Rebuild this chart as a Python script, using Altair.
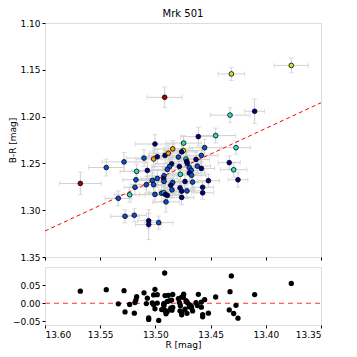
import altair as alt
import pandas as pd

R = [13.568, 13.5445, 13.5284, 13.5170, 13.5176, 13.5185, 13.5233, 13.5336, 13.5275, 13.5191,
     13.5061, 13.5061, 13.4970, 13.5103, 13.5004, 13.5016, 13.4983, 13.4913, 13.4883, 13.4843,
     13.4744, 13.4747, 13.4762, 13.4611, 13.4454, 13.4554, 13.4584, 13.4632, 13.4792, 13.4723,
     13.4717, 13.4711, 13.4853, 13.4871, 13.4892, 13.4783, 13.4693, 13.4675, 13.4693, 13.4672,
     13.4774, 13.4620, 13.4584, 13.5073, 13.4331, 13.4291, 13.4252, 13.4270, 13.4520, 13.4572,
     13.4572, 13.4663, 13.4732, 13.4714, 13.4762, 13.4777, 13.4762, 13.4843, 13.4861, 13.4850,
     13.4922, 13.4925, 13.4922, 13.4983, 13.5028, 13.5082, 13.5016, 13.5004, 13.4943, 13.4922,
     13.4910, 13.4892, 13.4904, 13.4916, 13.4312, 13.3769, 13.4324, 13.4101]
BR = [1.2714, 1.2544, 1.2484, 1.2585, 1.2675, 1.2755, 1.2835, 1.2873, 1.3065, 1.3054,
      1.3113, 1.3154, 1.3133, 1.2443, 1.2293, 1.2453, 1.2429, 1.2415, 1.2391, 1.2345,
      1.2283, 1.2363, 1.2377, 1.2214, 1.2203, 1.2332, 1.2415, 1.2457, 1.2432, 1.2453,
      1.2477, 1.2498, 1.2505, 1.2533, 1.2564, 1.2533, 1.2544, 1.2575, 1.2602, 1.2627,
      1.2617, 1.2529, 1.2554, 1.2575, 1.2492, 1.2568, 1.2675, 1.2332, 1.2685, 1.2755,
      1.2814, 1.2700, 1.2693, 1.2794, 1.2797, 1.2762, 1.2863, 1.2703, 1.2734, 1.2783,
      1.2633, 1.2665, 1.2693, 1.2661, 1.2682, 1.2727, 1.2727, 1.2831, 1.2818, 1.2814,
      1.2831, 1.2842, 1.2911, 1.1794, 1.1544, 1.1453, 1.1984, 1.1943]
GROUP = ["r", "b", "b", "c", "b", "b", "c", "b", "b", "b",
         "n", "n", "b", "b", "n", "o", "n", "n", "o", "o",
         "c", "Y", "n", "n", "c", "b", "b", "n", "b", "c",
         "n", "n", "n", "b", "b", "n", "b", "b", "n", "b",
         "c", "b", "n", "n", "n", "c", "n", "c", "n", "n",
         "n", "b", "n", "b", "n", "n", "n", "b", "n", "b",
         "b", "n", "b", "b", "b", "b", "b", "b", "b", "c",
         "n", "n", "b", "r", "y", "y", "c", "n"]
XERR = [0.019, 0.016, 0.020, 0.015, 0.012, 0.010, 0.014, 0.012, 0.013, 0.011,
        0.010, 0.012, 0.013, 0.016, 0.018, 0.016, 0.014, 0.015, 0.017, 0.018,
        0.016, 0.018, 0.014, 0.016, 0.018, 0.014, 0.015, 0.012, 0.017, 0.014,
        0.013, 0.012, 0.015, 0.016, 0.014, 0.014, 0.013, 0.012, 0.014, 0.013,
        0.015, 0.012, 0.012, 0.014, 0.010, 0.012, 0.009, 0.013, 0.010, 0.010,
        0.010, 0.014, 0.012, 0.014, 0.012, 0.013, 0.011, 0.014, 0.013, 0.012,
        0.015, 0.013, 0.014, 0.015, 0.016, 0.014, 0.013, 0.014, 0.012, 0.013,
        0.012, 0.011, 0.012, 0.016, 0.012, 0.0155, 0.018, 0.009]
YERR = [0.012, 0.009, 0.010, 0.008, 0.009, 0.008, 0.008, 0.008, 0.007, 0.007,
        0.008, 0.016, 0.007, 0.009, 0.010, 0.009, 0.008, 0.009, 0.008, 0.009,
        0.008, 0.009, 0.009, 0.010, 0.008, 0.009, 0.008, 0.008, 0.009, 0.009,
        0.010, 0.009, 0.009, 0.008, 0.008, 0.010, 0.009, 0.009, 0.009, 0.009,
        0.009, 0.008, 0.008, 0.009, 0.007, 0.008, 0.008, 0.007, 0.007, 0.007,
        0.007, 0.008, 0.008, 0.008, 0.008, 0.008, 0.008, 0.009, 0.008, 0.009,
        0.009, 0.009, 0.009, 0.009, 0.008, 0.009, 0.009, 0.009, 0.009, 0.010,
        0.008, 0.008, 0.011, 0.011, 0.007, 0.008, 0.008, 0.013]

# fitted relation: B-R = A + S * (R - R0)
FIT_R0 = 13.5985
FIT_A = 1.3214
FIT_S = 0.548
LINE_R = [13.60, 13.35]

df = pd.DataFrame({"R": R, "BR": BR, "g": GROUP, "xerr": XERR, "yerr": YERR})
df["xlo"] = df["R"] - df["xerr"]
df["xhi"] = df["R"] + df["xerr"]
df["ylo"] = df["BR"] - df["yerr"]
df["yhi"] = df["BR"] + df["yerr"]
df["res"] = FIT_A + FIT_S * (df["R"] - FIT_R0) - df["BR"]

line_df = pd.DataFrame({"R": LINE_R})
line_df["BR"] = FIT_A + FIT_S * (line_df["R"] - FIT_R0)
zero_df = pd.DataFrame({"R": LINE_R, "res": [0.0, 0.0]})

FONT = "DejaVu Sans"
xscale = alt.Scale(domain=[13.35, 13.60], reverse=True, nice=False, zero=False)
yscale = alt.Scale(domain=[1.10, 1.35], reverse=True, nice=False, zero=False)
rscale = alt.Scale(domain=[-0.06, 0.10], nice=False, zero=False)
XTICKS = [13.60, 13.55, 13.50, 13.45, 13.40, 13.35]

ax_common = dict(labelFont=FONT, labelFontSize=9, labelColor="black", titleFont=FONT,
                 titleFontSize=9, titleFontWeight="normal", titleColor="black",
                 domain=False, grid=False, tickColor="black", tickSize=3, labelPadding=2)

x_top = alt.X("R:Q", scale=xscale, axis=alt.Axis(values=XTICKS, labels=False, title=None, **ax_common))
y_top = alt.Y("BR:Q", scale=yscale,
              axis=alt.Axis(values=[1.10, 1.15, 1.20, 1.25, 1.30, 1.35], format=".2f",
                            title="B-R [mag]", titlePadding=2, **ax_common))

ebar_color = "#d0d0d0"
base = alt.Chart(df)
xbars = base.mark_rule(color=ebar_color, strokeWidth=1).encode(
    x=alt.X("xlo:Q", scale=xscale, axis=alt.Axis(values=XTICKS, labels=False, title=None, **ax_common)),
    x2="xhi:Q", y=y_top)
ybars = base.mark_rule(color=ebar_color, strokeWidth=1).encode(
    x=x_top, y=alt.Y("ylo:Q", scale=yscale), y2="yhi:Q")
capx1 = base.mark_tick(color=ebar_color, size=5, thickness=1, orient="vertical").encode(
    x=alt.X("xlo:Q", scale=xscale), y=y_top)
capx2 = base.mark_tick(color=ebar_color, size=5, thickness=1, orient="vertical").encode(
    x=alt.X("xhi:Q", scale=xscale), y=y_top)
capy1 = base.mark_tick(color=ebar_color, size=5, thickness=1, orient="horizontal").encode(
    x=x_top, y=alt.Y("ylo:Q", scale=yscale))
capy2 = base.mark_tick(color=ebar_color, size=5, thickness=1, orient="horizontal").encode(
    x=x_top, y=alt.Y("yhi:Q", scale=yscale))

fitline = alt.Chart(line_df).mark_line(strokeDash=[4, 3], strokeWidth=1).encode(
    x=alt.X("R:Q", scale=xscale), y=alt.Y("BR:Q", scale=yscale), color=alt.value("red"))

color_scale = alt.Scale(domain=["n", "b", "c", "y", "Y", "o", "r"],
                        range=["#00008b", "#0a4fd8", "#2fe0c8", "#c8e832", "#f0f000", "#ff9a00", "#a00000"])
pts = base.mark_point(filled=True, shape="circle", size=22, stroke="black", strokeWidth=0.8, opacity=1).encode(
    x=x_top, y=y_top, fill=alt.Fill("g:N", scale=color_scale, legend=None))

top = alt.layer(xbars, ybars, capx1, capx2, capy1, capy2, fitline, pts).properties(
    width=276, height=234,
    title=alt.TitleParams("Mrk 501", font=FONT, fontSize=10, fontWeight="normal", color="black", offset=0))

x_bot = alt.X("R:Q", scale=xscale,
              axis=alt.Axis(values=XTICKS, format=".2f", title="R [mag]", titlePadding=1, **ax_common))
y_bot = alt.Y("res:Q", scale=rscale,
              axis=alt.Axis(values=[-0.05, 0.0, 0.05], format=".2f", title=None, **ax_common))
zero = alt.Chart(zero_df).mark_line(strokeDash=[5, 4], strokeWidth=1.2).encode(
    x=x_bot, y=y_bot, color=alt.value("#ff3030"))
rpts = alt.Chart(df).mark_circle(size=28, opacity=1).encode(x=x_bot, y=y_bot, color=alt.value("black"))
bottom = alt.layer(zero, rpts).properties(width=276, height=58)

chart = alt.vconcat(top, bottom, spacing=3).configure_view(
    stroke="#222222", strokeWidth=1.2).configure(background="white", padding={"left": 0, "top": 0, "right": 0, "bottom": 0})

chart.save("out.html", embed_options={"renderer": "svg", "actions": False})
